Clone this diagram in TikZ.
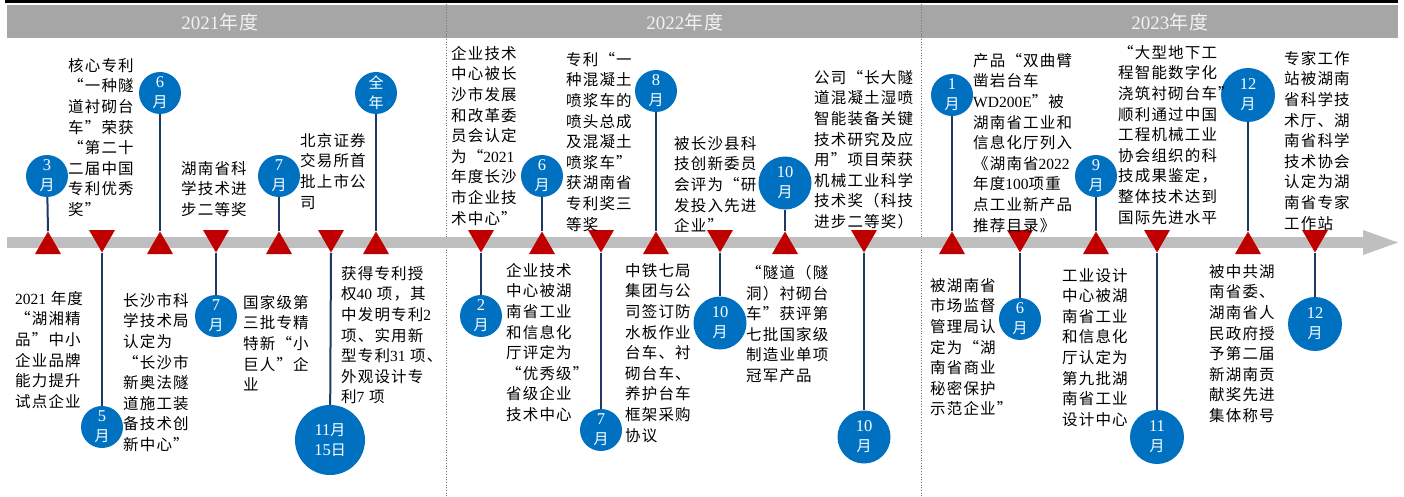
\documentclass[tikz,border=0pt]{standalone}
\usepackage{fontspec}
\setmainfont{Noto Sans CJK SC}[LetterSpace=7.5]
\newfontfamily\latfont{Liberation Serif}
\newcommand\Ln[1]{{\latfont #1}}
\newcommand\Dg[1]{{\latfont\fontsize{16.5}{20}\selectfont #1}}
\usetikzlibrary{shapes.geometric}
\definecolor{tricol}{HTML}{C00000}
\definecolor{circcol}{HTML}{0070C0}
\definecolor{stemcol}{HTML}{1F3864}
\definecolor{barcol}{HTML}{BFBFBF}
\definecolor{headcol}{HTML}{A6A6A6}
\definecolor{headtxt}{HTML}{F2F2F2}
\tikzset{
 txt/.style={anchor=north west, inner sep=0pt, align=left, font=\fontsize{15.5}{20.6}\selectfont, text=black},
 mon/.style={circle, fill=circcol, inner sep=0pt, minimum size=#1, text=white, align=center, font=\fontsize{15}{20}\selectfont},
 upt/.style={regular polygon, regular polygon sides=3, fill=tricol, inner sep=0pt, minimum size=30pt},
 dnt/.style={upt, shape border rotate=180},
 stemline/.style={draw=stemcol, line width=2pt},
 yr/.style={text=headtxt, font=\fontsize{19}{20}\selectfont, inner sep=0pt},
 sep/.style={dotted, line width=0.7pt, black!55},
}
\begin{document}
\begin{tikzpicture}[x=1pt,y=-1pt]
\useasboundingbox (0,0) rectangle (1404,497);
\fill[white] (0,0) rectangle (1404,497);
\draw[line width=2.5pt] (5,1.5) -- (1398,1.5);
\fill[headcol] (7,5) rectangle (1398,38);
\draw[sep] (446,4) -- (446,497);
\draw[sep] (921,4) -- (921,497);
\node[yr] (yr1) at (220,22) {\Ln{2021}年度};
\node[yr] (yr2) at (685,22) {\Ln{2022}年度};
\node[yr] (yr3) at (1170,22) {\Ln{2023}年度};
% axis
\fill[barcol] (7,236.5) rectangle (1364,247.5);
\fill[barcol] (1363,230) -- (1398,242.5) -- (1363,255) -- cycle;
% triangles
\node[upt] (t1) at (48,246.5) {};
\node[dnt] (t2) at (102,237.5) {};
\node[upt] (t3) at (160,246.5) {};
\node[dnt] (t4) at (216,237.5) {};
\node[upt] (t5) at (279,246.5) {};
\node[dnt] (t6) at (331,237.5) {};
\node[upt] (t7) at (376,246.5) {};
\node[dnt] (t8) at (481,237.5) {};
\node[upt] (t9) at (542,246.5) {};
\node[dnt] (t10) at (601,237.5) {};
\node[upt] (t11) at (656,246.5) {};
\node[dnt] (t12) at (720,237.5) {};
\node[upt] (t13) at (785,246.5) {};
\node[dnt] (t14) at (864,237.5) {};
\node[upt] (t15) at (952,246.5) {};
\node[dnt] (t16) at (1020,237.5) {};
\node[upt] (t17) at (1096,246.5) {};
\node[dnt] (t18) at (1157,237.5) {};
\node[upt] (t19) at (1248,246.5) {};
\node[dnt] (t20) at (1315,237.5) {};
% circles
\node[mon=42] (c1) at (47,176) {\Dg{3}\\月};
\node[mon=42] (c2) at (102,427) {\Dg{5}\\月};
\node[mon=42] (c3) at (160,93) {\Dg{6}\\月};
\node[mon=42] (c4) at (216,316) {\Dg{7}\\月};
\node[mon=42] (c5) at (279,176) {\Dg{7}\\月};
\node[mon=70] (c6) at (330,440) {\Dg{11}月\\\Dg{15}日};
\node[mon=42] (c7) at (376,93) {全\\年};
\node[mon=42] (c8) at (481,316) {\Dg{2}\\月};
\node[mon=42] (c9) at (542,176) {\Dg{6}\\月};
\node[mon=42] (c10) at (601,430) {\Dg{7}\\月};
\node[mon=42] (c11) at (656,91) {\Dg{8}\\月};
\node[mon=53] (c12) at (720,323) {\Dg{10}\\月};
\node[mon=53] (c13) at (785,183) {\Dg{10}\\月};
\node[mon=53] (c14) at (864,437) {\Dg{10}\\月};
\node[mon=42] (c15) at (952,95) {\Dg{1}\\月};
\node[mon=42] (c16) at (1020,319) {\Dg{6}\\月};
\node[mon=42] (c17) at (1096,176) {\Dg{9}\\月};
\node[mon=54] (c18) at (1157,437) {\Dg{11}\\月};
\node[mon=54] (c19) at (1248,95) {\Dg{12}\\月};
\node[mon=54] (c20) at (1315,324) {\Dg{12}\\月};
% stems
\foreach \i in {1,3,5,7,9,11,13,15,17,19} \draw[stemline] (c\i) -- (t\i.corner 1);
\foreach \i in {2,4,6,8,10,12,14,16,18,20} \draw[stemline] (t\i.corner 1) -- (c\i);
% texts
\node[txt] (d1) at (15,291) {\Ln{2021} 年度\\“湖湘精\\品”中小\\企业品牌\\能力提升\\试点企业};
\node[txt] (d2) at (68,58) {核心专利\\“一种隧\\道衬砌台\\车”荣获\\“第二十\\二届中国\\专利优秀\\奖”};
\node[txt] (d3) at (123,293) {长沙市科\\学技术局\\认定为\\“长沙市\\新奥法隧\\道施工装\\备技术创\\新中心”};
\node[txt] (d4) at (181,161) {湖南省科\\学技术进\\步二等奖};
\node[txt] (d5) at (243,295) {国家级第\\三批专精\\特新“小\\巨人”企\\业};
\node[txt] (d6) at (300,133) {北京证券\\交易所首\\批上市公\\司};
\node[txt] (d7) at (341,266) {获得专利授\\权\Ln{40} 项，其\\中发明专利\Ln{2}\\项、实用新\\型专利\Ln{31} 项、\\外观设计专\\利\Ln{7} 项};
\node[txt] (d8) at (451,46) {企业技术\\中心被长\\沙市发展\\和改革委\\员会认定\\为“\Ln{2021}\\年度长沙\\市企业技\\术中心”};
\node[txt] (d9) at (506,263) {企业技术\\中心被湖\\南省工业\\和信息化\\厅评定为\\“优秀级”\\省级企业\\技术中心};
\node[txt] (d10) at (566,52) {专利“一\\种混凝土\\喷浆车的\\喷头总成\\及混凝土\\喷浆车”\\获湖南省\\专利奖三\\等奖};
\node[txt] (d11) at (625,263) {中铁七局\\集团与公\\司签订防\\水板作业\\台车、衬\\砌台车、\\养护台车\\框架采购\\协议};
\node[txt] (d12) at (674,136) {被长沙县科\\技创新委员\\会评为“研\\发投入先进\\企业”};
\node[txt] (d13) at (746,265) {“隧道（隧\\洞）衬砌台\\车”获评第\\七批国家级\\制造业单项\\冠军产品};
\node[txt] (d14) at (814,70) {公司“长大隧\\道混凝土湿喷\\智能装备关键\\技术研究及应\\用”项目荣获\\机械工业科学\\技术奖（科技\\进步二等奖）};
\node[txt] (d15) at (930,278) {被湖南省\\市场监督\\管理局认\\定为“湖\\南省商业\\秘密保护\\示范企业”};
\node[txt] (d16) at (973,53) {产品“双曲臂\\凿岩台车\\\Ln{WD200E}”被\\湖南省工业和\\信息化厅列入\\《湖南省\Ln{2022}\\年度\Ln{100}项重\\点工业新产品\\推荐目录》};
\node[txt] (d17) at (1062,268) {工业设计\\中心被湖\\南省工业\\和信息化\\厅认定为\\第九批湖\\南省工业\\设计中心};
\node[txt] (d18) at (1118,45) {“大型地下工\\程智能数字化\\浇筑衬砌台车”\\顺利通过中国\\工程机械工业\\协会组织的科\\技成果鉴定，\\整体技术达到\\国际先进水平};
\node[txt] (d19) at (1209,264) {被中共湖\\南省委、\\湖南省人\\民政府授\\予第二届\\新湖南贡\\献奖先进\\集体称号};
\node[txt] (d20) at (1284,51) {专家工作\\站被湖南\\省科学技\\术厅、湖\\南省科学\\技术协会\\认定为湖\\南省专家\\工作站};
\end{tikzpicture}
\end{document}
